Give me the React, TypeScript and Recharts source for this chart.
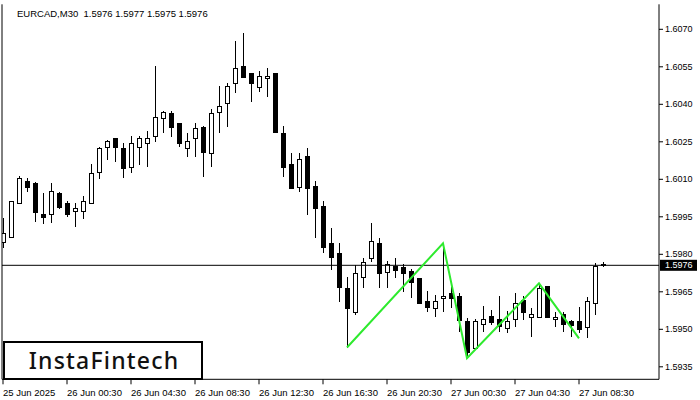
import React from "react";
import { ComposedChart, Bar, Line, XAxis, YAxis, ReferenceLine } from "recharts";

// EURCAD M30 candles (index 0 = 25 Jun 20:30)
const openPrices = [
  1.5985, 1.5987, 1.60004, 1.60093, 1.60085, 1.59961, 1.5996, 1.60044, 1.60004, 1.59972,
  1.59972, 1.60004, 1.6013, 1.6023, 1.60264, 1.60224, 1.6015, 1.6023, 1.60244, 1.60273,
  1.60344, 1.60364, 1.60324, 1.60224, 1.60264, 1.6031, 1.60204, 1.6037, 1.60404, 1.60484,
  1.60553, 1.60524, 1.6047, 1.60504, 1.60524, 1.60284, 1.6016, 1.6007, 1.60193, 1.60073,
  1.59993, 1.59844, 1.59804, 1.59664, 1.5957, 1.5971, 1.59784, 1.59844, 1.5973, 1.59753,
  1.5975, 1.59733, 1.59704, 1.59613, 1.59584, 1.59624, 1.59646, 1.59633, 1.59533, 1.59424,
  1.5952, 1.59553, 1.5954, 1.59504, 1.5954, 1.59617, 1.5955, 1.5955, 1.59673, 1.5954,
  1.5956, 1.59533, 1.59533, 1.5951, 1.59604, 1.5976,
];
const highPrices = [
  1.59945, 1.60015, 1.60113, 1.60105, 1.6009, 1.60046, 1.60084, 1.60048, 1.60013, 1.60006,
  1.60033, 1.60161, 1.60228, 1.60256, 1.60266, 1.60244, 1.60273, 1.60273, 1.60293, 1.60553,
  1.60372, 1.60373, 1.60326, 1.60284, 1.60324, 1.60313, 1.60381, 1.60473, 1.60484, 1.60653,
  1.60684, 1.60526, 1.60533, 1.60544, 1.60526, 1.60313, 1.60204, 1.60204, 1.60224, 1.60093,
  1.60013, 1.59904, 1.59844, 1.5971, 1.59757, 1.59786, 1.59926, 1.59866, 1.59773, 1.59786,
  1.5976, 1.5974, 1.59706, 1.59653, 1.59637, 1.59844, 1.5967, 1.59646, 1.59545, 1.5954,
  1.59593, 1.59577, 1.59633, 1.59573, 1.59646, 1.59633, 1.59584, 1.59684, 1.59675, 1.5957,
  1.5957, 1.59537, 1.5959, 1.5963, 1.59764, 1.5977,
];
const lowPrices = [
  1.59825, 1.59865, 1.6, 1.6005, 1.5993, 1.59921, 1.59924, 1.59981, 1.5995, 1.5991,
  1.59941, 1.6, 1.601, 1.60177, 1.6017, 1.60104, 1.60124, 1.60157, 1.6015, 1.6025,
  1.60284, 1.6027, 1.6023, 1.6019, 1.6019, 1.6011, 1.6015, 1.60284, 1.6031, 1.60444,
  1.60508, 1.6041, 1.6045, 1.6043, 1.60288, 1.6011, 1.6006, 1.6005, 1.59957, 1.59864,
  1.59804, 1.59737, 1.5961, 1.59427, 1.59557, 1.59664, 1.5977, 1.59664, 1.59664, 1.59704,
  1.5965, 1.59624, 1.596, 1.5957, 1.5955, 1.5957, 1.59584, 1.5949, 1.59385, 1.5942,
  1.5949, 1.59517, 1.5949, 1.59484, 1.5951, 1.59537, 1.5947, 1.59548, 1.59548, 1.5951,
  1.5949, 1.5947, 1.59484, 1.59464, 1.59557, 1.5975,
];
const closePrices = [
  1.59885, 1.60013, 1.60104, 1.6007, 1.5997, 1.5995, 1.60052, 1.5999, 1.5996, 1.59984,
  1.60013, 1.60124, 1.60224, 1.60253, 1.6023, 1.60144, 1.60244, 1.60264, 1.60264, 1.6035,
  1.6037, 1.6031, 1.60244, 1.60253, 1.60304, 1.6021, 1.60364, 1.60393, 1.60473, 1.60544,
  1.6051, 1.60484, 1.60513, 1.60513, 1.6029, 1.6015, 1.60064, 1.6018, 1.60064, 1.59984,
  1.5983, 1.5979, 1.5967, 1.59584, 1.59724, 1.5977, 1.59853, 1.59724, 1.5976, 1.59737,
  1.59724, 1.5969, 1.59604, 1.5959, 1.59613, 1.59633, 1.59624, 1.59537, 1.5941, 1.59533,
  1.5954, 1.5953, 1.59513, 1.59533, 1.59604, 1.5957, 1.5956, 1.59664, 1.5955, 1.5955,
  1.59521, 1.59517, 1.59501, 1.59613, 1.59753, 1.5976,
];

// green pattern outline
const patternIndex = [43, 55, 58, 67, 72];
const patternPrices = [1.59427, 1.59844, 1.59384, 1.59684, 1.59464];

const timeTickIndex = [0, 8, 16, 24, 32, 40, 48, 56, 64, 72];
const timeTickLabels = [
  "25 Jun 2025", "26 Jun 00:30", "26 Jun 04:30", "26 Jun 08:30", "26 Jun 12:30",
  "26 Jun 16:30", "26 Jun 20:30", "27 Jun 00:30", "27 Jun 04:30", "27 Jun 08:30",
];
const priceTicks = [1.5935, 1.595, 1.5965, 1.598, 1.5995, 1.601, 1.6025, 1.604, 1.6055, 1.607];
const bidPrice = 1.59756;
const headerText = "EURCAD,M30  1.5976 1.5977 1.5975 1.5976";

const FONT = "'Liberation Sans', Arial, sans-serif";

const rows = openPrices.map((o, i) => {
  const p = patternIndex.indexOf(i);
  return {
    i,
    o,
    h: highPrices[i],
    l: lowPrices[i],
    c: closePrices[i],
    range: [lowPrices[i], highPrices[i]],
    pattern: p >= 0 ? patternPrices[p] : null,
  };
});

function Candle(props: any) {
  const { x, y, width, height, payload } = props;
  const cx = Math.round(x + width / 2) + 0.5;
  const span = payload.h - payload.l || 1;
  const py = (v: number) => y + ((payload.h - v) / span) * height;
  const top = Math.round(py(Math.max(payload.o, payload.c)));
  const bot = Math.round(py(Math.min(payload.o, payload.c)));
  const up = payload.c >= payload.o;
  return (
    <g shapeRendering="crispEdges">
      <line x1={cx} x2={cx} y1={y} y2={y + height} stroke="#000" strokeWidth={1} />
      <rect
        x={cx - 2}
        y={top + 0.5}
        width={4}
        height={Math.max(1, bot - top)}
        fill={up ? "#fff" : "#000"}
        stroke="#000"
        strokeWidth={1}
      />
    </g>
  );
}

function TimeTick(props: any) {
  const { x, y, payload } = props;
  const idx = timeTickIndex.indexOf(payload.value);
  return (
    <text x={x} y={y} dy={10} textAnchor="start" fontSize={9.5} fontFamily={FONT} fill="#000">
      {timeTickLabels[idx]}
    </text>
  );
}

function PriceTag(props: any) {
  const vb = props.viewBox || {};
  const x = vb.x + vb.width + 1;
  const y = vb.y;
  return (
    <g>
      <rect x={x} y={y - 5.5} width={37} height={11} fill="#000" />
      <text x={x + 5} y={y} dy="0.35em" fontSize={9} fontFamily={FONT} fill="#fff">
        {bidPrice.toFixed(4)}
      </text>
    </g>
  );
}

export default function App() {
  return (
    <div style={{ position: "absolute", left: 0, top: 0, width: 700, height: 400, background: "#fff" }}>
      <ComposedChart
        width={700}
        height={400}
        data={rows}
        margin={{ top: 4.3, right: 0, bottom: 0, left: 2 }}
      >
        <XAxis
          dataKey="i"
          type="number"
          domain={[-0.125, 82]}
          allowDataOverflow
          ticks={timeTickIndex}
          interval={0}
          tick={<TimeTick />}
          tickSize={5}
          height={20.7}
          axisLine={{ stroke: "#000" }}
          tickLine={{ stroke: "#000" }}
        />
        <YAxis
          orientation="right"
          domain={[1.593, 1.608]}
          allowDataOverflow
          ticks={priceTicks}
          interval={0}
          tickFormatter={(v: number) => v.toFixed(4)}
          width={41}
          tickSize={4}
          axisLine={{ stroke: "#000" }}
          tickLine={{ stroke: "#000" }}
          tick={{ fontSize: 9, fontFamily: FONT, fill: "#000" }}
        />
        <ReferenceLine x={-0.125} stroke="#000" />
        <ReferenceLine
          y={bidPrice}
          stroke="#000"
          label={(p: any) => <PriceTag {...p} />}
        />
        <Bar dataKey="range" barSize={5} shape={<Candle />} isAnimationActive={false} />
        <Line
          dataKey="pattern"
          stroke="#2eea2e"
          strokeWidth={2}
          dot={false}
          connectNulls
          isAnimationActive={false}
        />
      </ComposedChart>
      <div
        style={{
          position: "absolute",
          left: 17,
          top: 8,
          fontFamily: FONT,
          fontSize: 9.5,
          whiteSpace: "pre",
          color: "#000",
        }}
      >
        {headerText}
      </div>
      <svg
        style={{ position: "absolute", left: 3, top: 341 }}
        width={200}
        height={39}
      >
        <rect x={1} y={1} width={198} height={37} fill="#fff" stroke="#000" strokeWidth={2} />
        <text
          x={101}
          y={28}
          textAnchor="middle"
          fontSize={23}
          fontFamily="'Noto Sans', sans-serif"
          fontWeight={500}
          letterSpacing={1.2}
          fill="#111"
        >
          InstaFintech
        </text>
      </svg>
    </div>
  );
}
